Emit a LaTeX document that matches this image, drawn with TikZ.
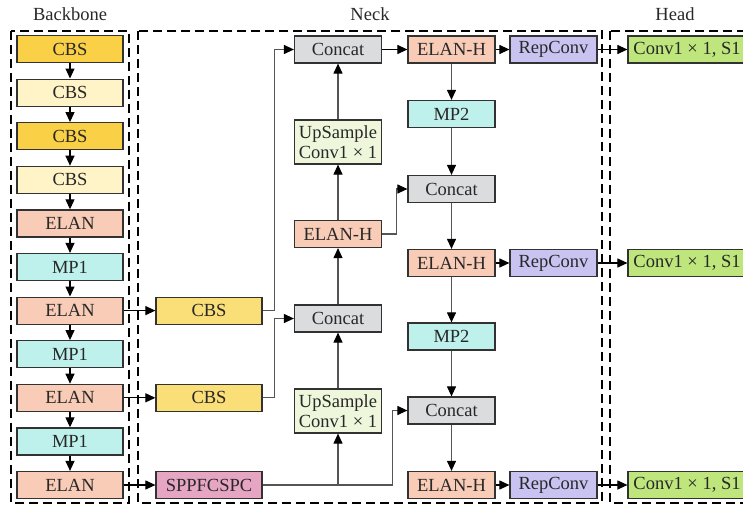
\documentclass[tikz,border=0pt]{standalone}
\usepackage{fontspec}
\setmainfont{Liberation Serif}
\usetikzlibrary{arrows.meta}

\definecolor{cbsdark}{RGB}{250,208,70}
\definecolor{cbslight}{RGB}{255,243,200}
\definecolor{cbsneck}{RGB}{250,222,120}
\definecolor{elancol}{RGB}{248,204,182}
\definecolor{mpcol}{RGB}{190,240,236}
\definecolor{sppcol}{RGB}{230,165,195}
\definecolor{catcol}{RGB}{218,220,222}
\definecolor{upcol}{RGB}{238,246,220}
\definecolor{repcol}{RGB}{200,195,240}
\definecolor{convcol}{RGB}{190,230,125}
\definecolor{edgecol}{RGB}{50,50,50}
\definecolor{linecol}{RGB}{85,85,85}
\definecolor{textcol}{RGB}{40,40,40}

\tikzset{
  blk/.style={draw=edgecol, line width=1.2pt, minimum height=27pt,
    inner sep=0pt, align=center, text=textcol,
    font=\fontsize{18.5}{19.5}\selectfont},
  bbblk/.style={blk, minimum width=106pt},
  nkblk/.style={blk, minimum width=87pt},
  tall/.style={minimum height=44pt},
  group/.style={line width=1.3pt, dash pattern=on 9pt off 5pt},
  bbarr/.style={-{Triangle[length=10pt,width=9pt]}, line width=1.1pt, black},
  nkarr/.style={-{Triangle[length=10pt,width=9pt,color=black]}, line width=1.1pt, linecol},
  title/.style={text=textcol, font=\fontsize{18.5}{19.5}\selectfont}
}

\begin{document}
\begin{tikzpicture}[x=1pt, y=-1pt]
\useasboundingbox (0,0) rectangle (743,506);
\clip (0,0) rectangle (743,506);

% groups
\draw[group] (11,31) rectangle (129,503);
\draw[group] (138,31) rectangle (602,503);
\draw[group] (610,31) rectangle (780,503);
\node[title] (tbb) at (70,14) {Backbone};
\node[title] (tnk) at (370,14) {Neck};
\node[title] (thd) at (675,14) {Head};

% backbone
\node[bbblk, fill=cbsdark]  (b1)  at (70,49)    {CBS};
\node[bbblk, fill=cbslight] (b2)  at (70,92.6)  {CBS};
\node[bbblk, fill=cbsdark]  (b3)  at (70,136.2) {CBS};
\node[bbblk, fill=cbslight] (b4)  at (70,179.8) {CBS};
\node[bbblk, fill=elancol]  (b5)  at (70,223.4) {ELAN};
\node[bbblk, fill=mpcol]    (b6)  at (70,267)   {MP1};
\node[bbblk, fill=elancol]  (b7)  at (70,310.6) {ELAN};
\node[bbblk, fill=mpcol]    (b8)  at (70,354.2) {MP1};
\node[bbblk, fill=elancol]  (b9)  at (70,397.8) {ELAN};
\node[bbblk, fill=mpcol]    (b10) at (70,441.4) {MP1};
\node[bbblk, fill=elancol]  (b11) at (70,485)   {ELAN};
\foreach \a/\b in {b1/b2,b2/b3,b3/b4,b4/b5,b5/b6,b6/b7,b7/b8,b8/b9,b9/b10,b10/b11}
  \draw[bbarr] (\a) -- (\b);

% neck, first column
\node[bbblk, fill=cbsneck] (cbs1) at (209,310.6) {CBS};
\node[bbblk, fill=cbsneck] (cbs2) at (209,397.8) {CBS};
\node[bbblk, fill=sppcol]  (spp)  at (209,485)   {SPPFCSPC};
\draw[bbarr] (b7) -- (cbs1);
\draw[bbarr] (b9) -- (cbs2);
\draw[bbarr] (b11) -- (spp);

% neck, top-down path
\node[nkblk, fill=catcol]     (cat1) at (338,49.5)  {Concat};
\node[nkblk, tall, fill=upcol] (up1) at (338,142)   {UpSample\\Conv1 × 1};
\node[nkblk, fill=elancol]    (elh1) at (338,234)   {ELAN-H};
\node[nkblk, fill=catcol]     (cat2) at (338,318.5) {Concat};
\node[nkblk, tall, fill=upcol] (up2) at (338,411)   {UpSample\\Conv1 × 1};

% neck, bottom-up path
\node[nkblk, fill=elancol] (eh1)  at (451.5,49.5)  {ELAN-H};
\node[nkblk, fill=mpcol]   (mp1)  at (451.5,114)   {MP2};
\node[nkblk, fill=catcol]  (cat3) at (451.5,189)   {Concat};
\node[nkblk, fill=elancol] (eh2)  at (451.5,263)   {ELAN-H};
\node[nkblk, fill=mpcol]   (mp2)  at (451.5,336.5) {MP2};
\node[nkblk, fill=catcol]  (cat4) at (451.5,410.5) {Concat};
\node[nkblk, fill=elancol] (eh3)  at (451.5,485)   {ELAN-H};

\node[nkblk, fill=repcol] (rc1) at (553.5,49.5) {RepConv};
\node[nkblk, fill=repcol] (rc2) at (553.5,263)  {RepConv};
\node[nkblk, fill=repcol] (rc3) at (553.5,485)  {RepConv};

% head
\node[blk, minimum width=118pt, fill=convcol] (hd1) at (687,49.5) {Conv1 × 1, S1};
\node[blk, minimum width=118pt, fill=convcol] (hd2) at (687,263)  {Conv1 × 1, S1};
\node[blk, minimum width=118pt, fill=convcol] (hd3) at (687,485)  {Conv1 × 1, S1};

% connections
\draw[nkarr] (cbs1.east) -- ++(12,0) |- (cat1.west);
\draw[nkarr] (cbs2.east) -- ++(12,0) |- (cat2.west);
\draw[nkarr] (spp.east) -- ++(130,0) |- (cat4.west);
\draw[nkarr] (up2.south |- spp.east) -- (up2.south);
\draw[nkarr] (up2) -- (cat2);
\draw[nkarr] (cat2) -- (elh1);
\draw[nkarr] (elh1) -- (up1);
\draw[nkarr] (up1) -- (cat1);
\draw[nkarr] (elh1.east) -- ++(14,0) |- (cat3.west);
\draw[bbarr] (cat1) -- (eh1);
\foreach \a/\b in {eh1/mp1,mp1/cat3,cat3/eh2,eh2/mp2,mp2/cat4,cat4/eh3}
  \draw[nkarr] (\a) -- (\b);
\draw[bbarr] (eh1) -- (rc1);
\draw[bbarr] (eh2) -- (rc2);
\draw[bbarr] (eh3) -- (rc3);
\draw[bbarr] (rc1) -- (hd1);
\draw[bbarr] (rc2) -- (hd2);
\draw[bbarr] (rc3) -- (hd3);
\end{tikzpicture}
\end{document}
